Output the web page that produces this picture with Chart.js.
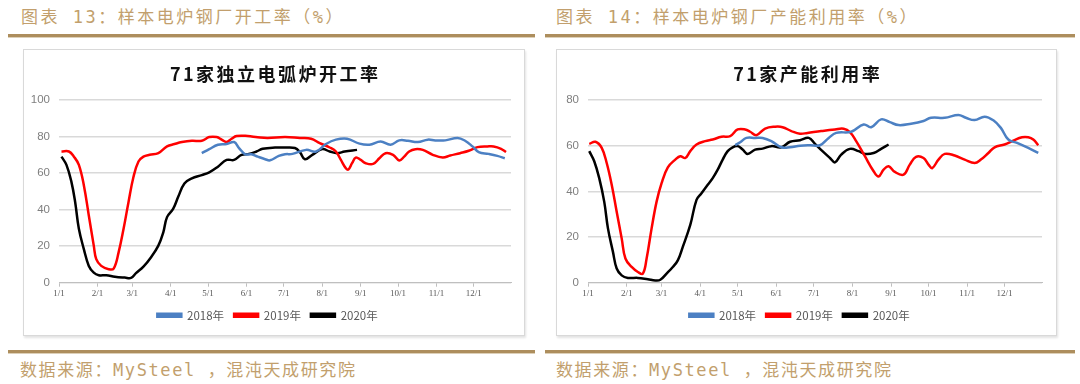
<!DOCTYPE html>
<html lang="zh">
<head>
<meta charset="UTF-8" />
<title>样本电炉钢厂开工率 / 产能利用率</title>
<script src="https://cdn.jsdelivr.net/npm/chart.js"></script>
<style>
  body { margin: 0; width: 1080px; height: 384px; background: #fff; position: relative; overflow: hidden; font-family: "Noto Sans CJK SC", sans-serif; }
  .head, .foot { position: absolute; color: #c29f6d; font-size: 17px; letter-spacing: 2.5px; line-height: 22px; white-space: nowrap;
    font-family: "DejaVu Sans Mono", "Noto Sans CJK SC", monospace; }
  .foot { letter-spacing: 1.6px; }
  .rule { position: absolute; height: 3px; background: #ad8e5d; border-bottom: 1px solid #ddd0b8; }
  .box { position: absolute; top: 49px; height: 287px; border: 1px solid #d9d9d9; box-sizing: border-box; box-shadow: 1px 2px 2px #e4e4e4; background: #fff; }
  .box .wrap { position: absolute; left: 0; top: 0; right: 0; bottom: 0; }
  .ttl { position: absolute; top: 11px; left: 0; right: 0; text-align: center; font-weight: bold; font-size: 18px; line-height: 24px;
    letter-spacing: 2.5px; padding-left: 2.5px; color: #111; }
</style>
</head>
<body>
  <div class="head" style="left:21px; top:6px;">图表 13：样本电炉钢厂开工率（%）</div>
  <div class="head" style="left:556px; top:6px;">图表 14：样本电炉钢厂产能利用率（%）</div>
  <div class="rule" style="left:8px; top:34px; width:527px;"></div>
  <div class="rule" style="left:545px; top:34px; width:530px;"></div>

  <div class="box" style="left:23px; width:502px;">
    <div class="wrap"><canvas id="workChart"></canvas></div>
    <div class="ttl">71家独立电弧炉开工率</div>
  </div>
  <div class="box" style="left:556px; width:501px;">
    <div class="wrap"><canvas id="capChart"></canvas></div>
    <div class="ttl">71家产能利用率</div>
  </div>

  <div class="rule" style="left:8px; top:350px; width:527px;"></div>
  <div class="rule" style="left:545px; top:350px; width:530px;"></div>
  <div class="foot" style="left:20px; top:359px;">数据来源：MySteel ，混沌天成研究院</div>
  <div class="foot" style="left:556px; top:359px;">数据来源：MySteel ，混沌天成研究院</div>

<script>
// x axis: day of year, labelled at month starts
const monthStarts = [0, 31, 59, 90, 120, 151, 181, 212, 243, 273, 304, 334];
const monthLabels = ['1/1', '2/1', '3/1', '4/1', '5/1', '6/1', '7/1', '8/1', '9/1', '10/1', '11/1', '12/1'];
const seriesNames = ['2018年', '2019年', '2020年'];
const seriesColors = ['#4c80c3', '#ff0000', '#000000'];

// chart 13: 71家独立电弧炉开工率
const workDays2018 = [115, 121, 128, 135, 141, 145, 150, 155, 160, 166, 170, 177, 182, 188, 199, 207, 215, 223, 232, 242, 250, 259, 267, 274, 281, 289, 297, 303, 311, 321, 327, 333, 338, 346, 353, 359];
const work2018 = [70.9, 73.1, 75.5, 75.9, 77, 73.7, 70.3, 70.3, 69, 67.6, 67, 69.4, 70.3, 70.5, 72.7, 71.8, 75.9, 78.3, 78.8, 76.1, 75.5, 77.3, 75.5, 77.9, 77.7, 77, 78.3, 77.9, 77.9, 79.2, 77.7, 74.6, 71.5, 70.5, 69.4, 68.1];

const workDays2019 = [2, 8, 12, 16, 20, 24, 28, 30, 34, 40, 44, 48, 52, 56, 60, 64, 68, 73, 80, 87, 93, 99, 107, 115, 121, 127, 131, 135, 139, 143, 152, 160, 168, 182, 194, 203, 210, 218, 223, 227, 231, 233, 236, 239, 243, 247, 253, 258, 263, 269, 274, 278, 282, 287, 293, 301, 309, 315, 323, 330, 337, 345, 350, 356, 360];
const work2019 = [71.8, 71.8, 69, 64.5, 53.4, 36.8, 20.3, 12.9, 9.2, 7.4, 7.7, 16.6, 29.5, 44.2, 58, 66.3, 69, 70, 70.9, 74.6, 75.9, 77, 77.7, 77.7, 79.7, 79.7, 78.3, 77, 78.8, 80.3, 80.3, 79.6, 79.2, 79.7, 79.2, 78.8, 76.4, 74, 71.8, 67.2, 62.6, 61.9, 65.4, 68.5, 67.2, 65.4, 65, 68.1, 70.9, 70, 66.9, 69, 71.8, 73.1, 72.7, 70, 68.5, 69.6, 70.9, 72.2, 74.2, 74.6, 74.6, 73.3, 71.5];

const workDays2020 = [2, 6, 10, 13, 16, 20, 24, 28, 32, 38, 45, 53, 58, 62, 68, 74, 80, 84, 87, 92, 96, 101, 107, 115, 121, 128, 135, 141, 147, 153, 159, 164, 174, 182, 190, 194, 198, 204, 212, 218, 224, 230, 240];
const work2020 = [69, 64.5, 55.2, 44.2, 29.5, 18.4, 9.2, 5.5, 4.1, 4.1, 3.3, 2.8, 2.6, 5.2, 8.8, 13.8, 20.3, 27.6, 35.9, 40.5, 47, 54.3, 57.1, 58.9, 60.4, 63.5, 67.2, 67.2, 70, 70.5, 71.8, 73.3, 74, 74, 73.7, 71.5, 67.6, 70, 73.1, 71.8, 70.9, 71.8, 72.7];

// chart 14: 71家产能利用率
const capDays2018 = [118, 122, 127, 134, 140, 147, 155, 162, 170, 178, 186, 193, 199, 211, 221, 227, 235, 242, 249, 259, 269, 275, 286, 297, 303, 310, 318, 325, 331, 337, 344, 353, 361];
const cap2018 = [60.2, 61.5, 63.4, 63.4, 63.4, 62, 59.3, 59.3, 60, 60.2, 60.2, 63.4, 65.6, 66.1, 69.3, 68.1, 71.5, 70.3, 69, 69.6, 70.8, 72.2, 72.2, 73.4, 72.2, 71.2, 72.7, 71.1, 67.8, 62.7, 61.2, 59, 56.8];

const capDays2019 = [1, 6, 11, 15, 19, 23, 27, 30, 35, 40, 44, 47, 51, 55, 59, 64, 70, 74, 78, 82, 87, 94, 100, 107, 114, 120, 126, 130, 135, 142, 150, 156, 163, 170, 176, 187, 198, 205, 210, 215, 222, 229, 233, 237, 241, 246, 253, 258, 263, 269, 273, 276, 281, 286, 294, 302, 310, 315, 321, 326, 334, 341, 348, 353, 357, 361];
const cap2019 = [60.8, 61.7, 59, 52.4, 42.9, 31.1, 19.4, 10.6, 6.9, 4.7, 4, 10.6, 23.8, 35.5, 43.6, 50.5, 53.9, 55.4, 54.6, 57.6, 60.5, 62, 62.7, 63.9, 64.2, 67.1, 67.1, 66.1, 64.6, 67.5, 68.3, 68.1, 66.4, 65.2, 65.6, 66.4, 67.1, 67.4, 65.9, 62, 55.4, 48.8, 46.5, 49.5, 51, 48.5, 47.3, 51.7, 55.1, 54.6, 51.7, 50.2, 53.9, 56.4, 55.7, 53.9, 52.4, 53.9, 56.8, 59.3, 60.5, 62.2, 63.7, 63.7, 62.7, 60.2];

const capDays2020 = [1, 5, 9, 13, 16, 20, 23, 27, 32, 40, 48, 54, 58, 63, 68, 72, 76, 82, 87, 91, 96, 100, 104, 108, 112, 116, 120, 124, 128, 134, 140, 147, 155, 162, 170, 177, 182, 188, 194, 198, 203, 210, 217, 222, 229, 235, 241];
const cap2020 = [57.6, 53.2, 45.8, 35.5, 23.8, 13.5, 6.2, 3.2, 2.1, 2.1, 1.5, 1, 1.3, 4, 6.9, 9.8, 15.7, 25.3, 36.3, 39.2, 42.9, 45.8, 49.5, 53.9, 57.6, 59.3, 59.8, 58.3, 56.4, 58.3, 58.7, 59.8, 59.3, 61.7, 62.4, 63.4, 60.8, 57.6, 54.6, 52.7, 56.1, 58.6, 57.6, 56.4, 56.8, 58.6, 60.5];

function pairs(days, vals) {
  return days.map((d, i) => ({ x: d, y: vals[i] }));
}

function buildChart(id, yMax, axisWidth, rightPad, lists) {
  const ctx = document.getElementById(id).getContext('2d');
  return new Chart(ctx, {
    type: 'line',
    data: {
      datasets: lists.map((l, i) => ({
        label: seriesNames[i],
        data: pairs(l[0], l[1]),
        borderColor: seriesColors[i],
        backgroundColor: seriesColors[i],
        borderWidth: 2.5,
        tension: 0.4,
        pointRadius: 0,
        fill: false
      }))
    },
    options: {
      responsive: true,
      maintainAspectRatio: false,
      animation: false,
      layout: { padding: { top: 50, right: rightPad, bottom: 4, left: 0 } },
      plugins: {
        title: { display: false },
        tooltip: { enabled: false },
        legend: {
          position: 'bottom',
          labels: {
            boxWidth: 24, boxHeight: 3, padding: 10,
            color: '#595959',
            font: { size: 11.5, family: 'Noto Sans CJK SC' }
          }
        }
      },
      scales: {
        x: {
          type: 'linear', min: 0, max: 364,
          afterBuildTicks: s => { s.ticks = monthStarts.map(v => ({ value: v })); },
          afterFit: s => { s.height -= 2; },
          ticks: {
            autoSkip: false, maxRotation: 0, padding: 2,
            color: '#595959',
            font: { size: 9, family: 'Liberation Serif' },
            callback: v => monthLabels[monthStarts.indexOf(v)]
          },
          grid: { drawOnChartArea: false, drawTicks: true, tickLength: 4, color: '#bfbfbf' },
          border: { color: '#bfbfbf' }
        },
        y: {
          min: 0, max: yMax,
          afterFit: s => { s.width = axisWidth; },
          ticks: { stepSize: 20, padding: 9, color: '#7f7f7f', font: { size: 11.5, family: 'Liberation Sans' } },
          grid: { color: '#d9d9d9', lineWidth: 1.5, drawTicks: false },
          border: { display: false }
        }
      }
    }
  });
}

buildChart('workChart', 100, 35, 13, [[workDays2018, work2018], [workDays2019, work2019], [workDays2020, work2020]]);
buildChart('capChart', 80, 31, 14, [[capDays2018, cap2018], [capDays2019, cap2019], [capDays2020, cap2020]]);
</script>
</body>
</html>
